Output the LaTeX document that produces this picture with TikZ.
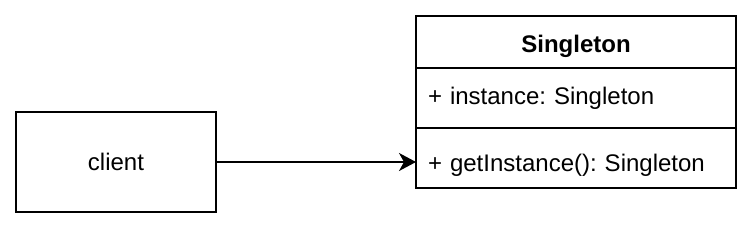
\documentclass[tikz,border=0pt]{standalone}
\usepackage{fontspec}
\setmainfont{Liberation Sans}
\usetikzlibrary{arrows.meta, positioning}
\frenchspacing

\begin{document}
\begin{tikzpicture}[
      x=1pt, y=1pt,
      box/.style={draw, line width=0.8pt, outer sep=0pt, minimum width=100pt, minimum height=50pt, font=\fontsize{12}{14}\selectfont},
      classhead/.style={draw, line width=0.8pt, outer sep=0pt, inner ysep=0pt, minimum width=160pt, minimum height=26pt, font=\fontsize{12}{14}\selectfont\bfseries, text height=12.5pt, text depth=2.5pt},
      section/.style={draw, line width=0.8pt, outer sep=0pt, inner xsep=6pt, inner ysep=0pt, text width=148pt, align=left, minimum height=30pt, font=\fontsize{12}{14}\selectfont},
      arrow/.style={-{Stealth[length=8.5pt, width=9pt, inset=2.5pt]}, line width=0.8pt}
  ]
    \useasboundingbox (0,0) rectangle (377,-115);

    \node[box] (client) at (58,-81) {client};

    \node[classhead] (singleton) at (288,-21) {Singleton};
    \node[section, below=0pt of singleton] (attr) {+ instance: Singleton};
    \node[section, below=0pt of attr, text height=15.5pt, text depth=2.5pt] (method) {+ getInstance(): Singleton};

    \draw[arrow] (client.east) -- (client.east -| method.west);
  \end{tikzpicture}
\end{document}
